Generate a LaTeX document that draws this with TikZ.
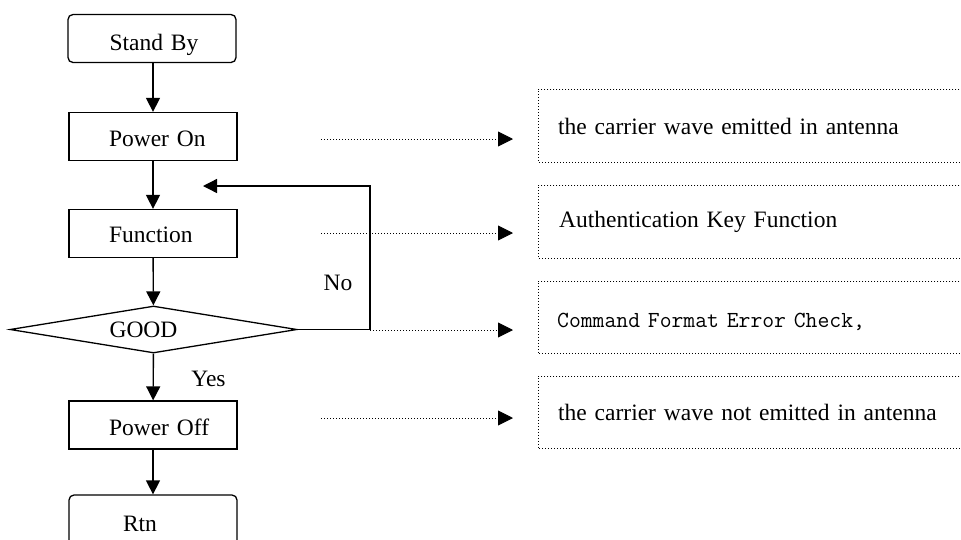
\documentclass[tikz,border=0pt]{standalone}
\usepackage{fontspec}
\setmainfont{Liberation Serif}
\usetikzlibrary{shapes.geometric,arrows.meta}
\begin{document}
\begin{tikzpicture}[x=1pt,y=-1pt,
 every node/.style={font=\fontsize{23.5}{28}\selectfont},
 procbox/.style={draw, line width=1.3pt, minimum width=168pt, minimum height=48pt, text width=160pt, inner xsep=4pt, inner ysep=0pt, align=left, text height=22pt, text depth=5pt},
 termbox/.style={procbox, rounded corners=5pt},
 flow/.style={line width=1.4pt, -{Triangle[length=14pt,width=14pt]}},
 note/.style={line width=0.9pt, dash pattern=on 1pt off 2pt, -{Triangle[length=15pt,width=15pt]}},
 notebox/.style={minimum width=421pt, minimum height=72pt, inner sep=0pt, text width=421pt, align=left},
 dotline/.style={line width=0.9pt, dash pattern=on 1pt off 2pt}]
\clip (0,0) rectangle (961,539);
% flow chart
\node[termbox, text height=29.4pt] (standby) at (152,38.5) {\hspace*{37.5pt}Stand By};
\node[procbox, text height=25.4pt] (poweron) at (153,136.5) {\hspace*{36pt}Power On};
\node[procbox] (function) at (153,233.5) {\hspace*{36pt}Function};
\node[diamond, draw, line width=1.3pt, minimum width=287pt, minimum height=47pt, shape aspect=6.1, inner sep=0pt] (good) at (153.5,329.5) {GOOD\hspace*{20pt}};
\node[procbox, text height=25pt] (poweroff) at (153,425) {\hspace*{36pt}Power Off};
\node[termbox, minimum height=56pt, text height=21pt] (rtn) at (153,523) {\hspace*{50pt}Rtn};
\draw[flow] (poweron.north |- standby.south) -- (poweron.north);
\draw[flow] (poweron) -- (function);
\draw[flow] (function) -- (good);
\draw[flow] (good) -- (poweroff);
\draw[flow] (poweroff) -- (rtn);
% feedback loop
\coordinate (fbcorner) at (370,329.5);
\coordinate (fbtop) at (370,186);
\coordinate (fbend) at (203,186);
\draw[flow, line width=1.3pt] (good.east) -- (fbcorner) -- (fbtop) -- (fbend);
\node (no) at (338,283) {No};
\node (yes) at (208.5,379) {Yes};
% notes
\node[notebox, anchor=west] (n1) at (538,126) {\hspace*{20pt}the carrier wave emitted in antenna};
\node[notebox, anchor=west] (n2) at (538,222) {\hspace*{21pt}Authentication Key Function};
\node[notebox, anchor=west, text height=24pt, text depth=4pt] (n3) at (538,317.5) {\hspace*{19pt}\fontsize{23}{28}\ttfamily Command Format Error Check,};
\node[notebox, anchor=west] (n4) at (538,412.5) {\hspace*{20pt}the carrier wave not emitted in antenna};
\foreach \n in {n1,n2,n3,n4}
  \draw[dotline] (\n.north east) -- (\n.north west) -- (\n.south west) -- (\n.south east);
\coordinate (s1) at (321,139); \coordinate (e1) at (513,139);
\coordinate (s2) at (321,233); \coordinate (e2) at (513,233);
\coordinate (s3) at (370,330); \coordinate (e3) at (513,330);
\coordinate (s4) at (321,418); \coordinate (e4) at (513,418);
\draw[note] (s1) -- (e1);
\draw[note] (s2) -- (e2);
\draw[note] (s3) -- (e3);
\draw[note] (s4) -- (e4);
\end{tikzpicture}
\end{document}
